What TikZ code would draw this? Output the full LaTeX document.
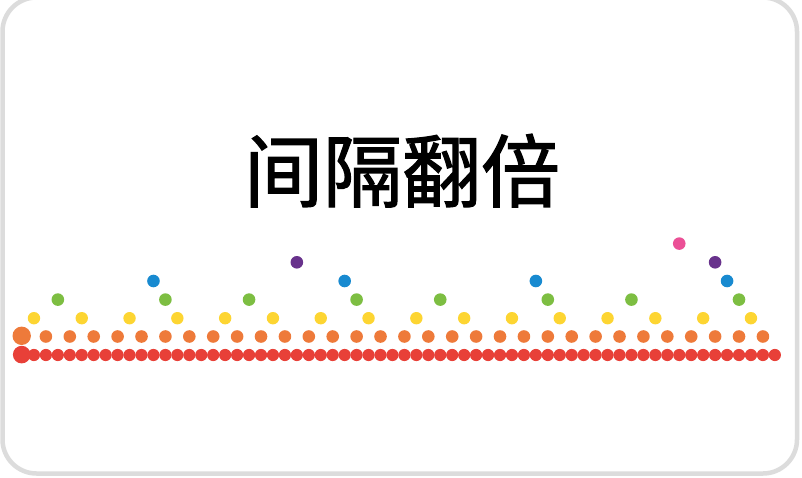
\documentclass[tikz,border=0pt]{standalone}
\usepackage{fontspec}
\newfontfamily\cjk[FakeBold=1.6]{Noto Sans CJK SC}
\definecolor{cred}{HTML}{E84038}
\definecolor{corange}{HTML}{EE7A3A}
\definecolor{cyellow}{HTML}{FDD532}
\definecolor{cgreen}{HTML}{7DBE42}
\definecolor{cblue}{HTML}{188AD0}
\definecolor{cpurple}{HTML}{68328C}
\definecolor{cpink}{HTML}{EB5096}
\definecolor{frame}{HTML}{DCDCDC}
\begin{document}
\begin{tikzpicture}[x=1pt,y=-1pt]
\useasboundingbox (0,0) rectangle (802,478);
\fill[white] (0,0) rectangle (802,478);
\draw[frame,line width=4.5pt,fill=white,rounded corners=34pt] (2.5,-2.5) rectangle (797,473.5);
\node[anchor=base,font=\cjk\fontsize{79}{79}\selectfont,inner sep=0pt] (title) at (402,201) {间隔翻倍};
\def\X#1{22+11.95*#1}
% red row
\foreach \k in {1,...,63} \fill[cred] ({\X{\k}},355) circle (6.1);
% orange row
\foreach \k in {2,4,...,62} \fill[corange] ({\X{\k}},336.5) circle (6.3);
% yellow row
\foreach \k in {1,5,...,61} \fill[cyellow] ({\X{\k}},318.2) circle (6.2);
% green row
\foreach \k in {3,12,19,28,35,44,51,60} \fill[cgreen] ({\X{\k}},299.6) circle (6.3);
% blue row
\foreach \k in {11,27,43,59} \fill[cblue] ({\X{\k}},281) circle (6.3);
% purple row
\foreach \k in {23,58} \fill[cpurple] ({\X{\k}},262.3) circle (6.3);
% pink
\fill[cpink] ({\X{55}},243.6) circle (6.3);
% large dots
\fill[corange] (21.7,335.8) circle (9.2);
\fill[cred] (21.7,354.6) circle (8.8);
\end{tikzpicture}
\end{document}
